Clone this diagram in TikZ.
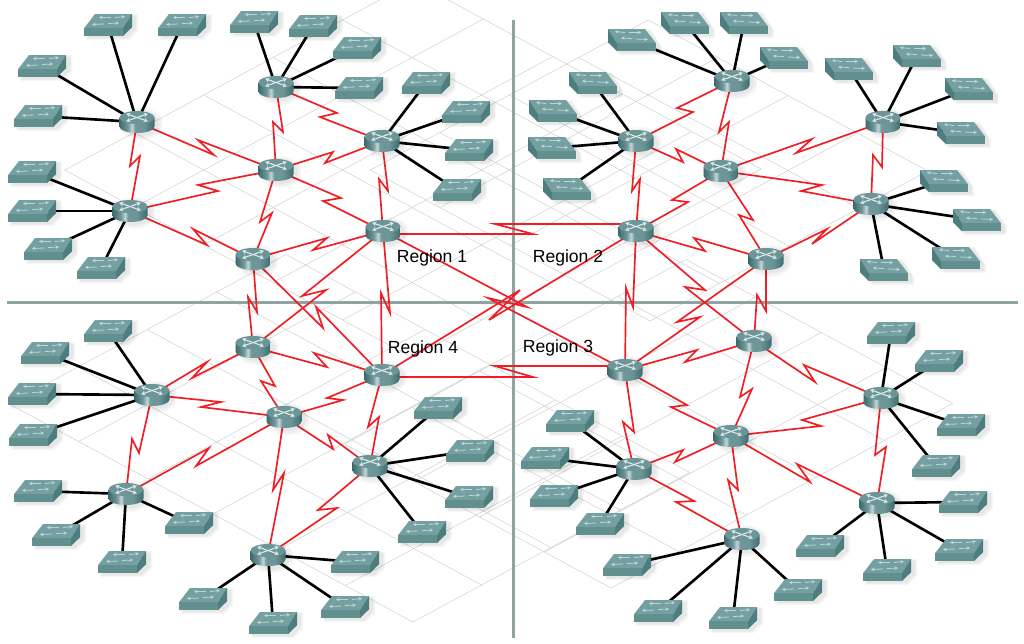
\documentclass[tikz,border=0pt]{standalone}
\usepackage{fontspec}
\setmainfont{Liberation Sans}
\usetikzlibrary{calc,arrows.meta}
\pgfdeclarelayer{background}
\pgfsetlayers{background,main}
\definecolor{rA}{HTML}{3D6B6D}
\definecolor{rB}{HTML}{6F9799}
\definecolor{rC}{HTML}{CAD8D8}
\definecolor{rD}{HTML}{3F6C6E}
\definecolor{rtop}{HTML}{6B9597}
\definecolor{swtop}{HTML}{75A0A2}
\definecolor{sfront}{HTML}{62908F}
\definecolor{sside}{HTML}{4E7D7F}
\definecolor{crossc}{HTML}{8FA5A3}
\definecolor{linkred}{HTML}{F01E24}
\pgfdeclarehorizontalshading{rbody}{100bp}{color(0bp)=(rA);color(25bp)=(rA);color(37bp)=(rB);color(43bp)=(rC);color(47bp)=(rB);color(60bp)=(rtop);color(75bp)=(rD);color(100bp)=(rD)}
\newcommand\routerdraw{%
  \foreach \g in {0,1,2}{\fill[black,opacity=.03] (4,2) ellipse ({18+2*\g} and {12+2*\g});}
  \path[shading=rbody] (-17.5,-4.5) -- (-17.5,4.5) arc (180:0:17.5 and 6.5) -- (17.5,-4.5) -- cycle;
  \fill[rtop] (0,-4.5) ellipse (17.5 and 6.5);
  \draw[white!80!rtop,line width=.6pt,{Stealth[length=2.4pt,width=2.4pt]}-{Stealth[length=2.4pt,width=2.4pt]}] (-11,-8.3) -- (11,-.7);
  \draw[white!80!rtop,line width=.6pt,{Stealth[length=2.4pt,width=2.4pt]}-{Stealth[length=2.4pt,width=2.4pt]}] (-11,-.7) -- (11,-8.3);
}
\newcommand\switchdraw[1]{%
  \foreach \g in {0,1,2}{\fill[black,opacity=.03] ({#1*(-24-\g)+4},{5.3+\g}) -- ({#1*(-13-\g)+4},{-9-\g}) -- ({#1*(24+\g)+4},{-9-\g}) -- ({#1*(24+\g)+4},{4.3+\g}) -- ({#1*(15+\g)+4},{13+\g}) -- ({#1*(-24-\g)+4},{13+\g}) -- cycle;}
  \fill[swtop] ({#1*(-24)},3.3) -- ({#1*(-13)},-11) -- ({#1*24},-11) -- ({#1*15},3.3) -- cycle;
  \fill[sfront] ({#1*(-24)},3.3) -- ({#1*15},3.3) -- ({#1*15},11) -- ({#1*(-24)},11) -- cycle;
  \fill[sside] ({#1*15},3.3) -- ({#1*24},-11) -- ({#1*24},2.3) -- ({#1*15},11) -- cycle;
  \draw[white!55!swtop,line width=.45pt,-{Stealth[length=2pt,width=2pt]}] ({#1*7},-7.5) -- ({#1*17},-8.5);
  \draw[white!55!swtop,line width=.45pt,-{Stealth[length=2pt,width=2pt]}] ({#1*3},-7.5) -- ({#1*(-9)},-7.5);
  \draw[white!55!swtop,line width=.45pt,-{Stealth[length=2pt,width=2pt]}] ({#1*0},-1.5) -- ({#1*11},-2);
  \draw[white!55!swtop,line width=.45pt,-{Stealth[length=2pt,width=2pt]}] ({#1*(-4)},-1) -- ({#1*(-16)},-.5);
}
\tikzset{
  x=.02cm,y=-.02cm,
  rtr/.style={inner sep=0,outer sep=0,minimum width=1cm,minimum height=.7cm,
    path picture={\begin{scope}[shift={(path picture bounding box.center)}]\routerdraw\end{scope}}},
  swr/.style={inner sep=0,outer sep=0,minimum width=1.3cm,minimum height=.75cm,
    path picture={\begin{scope}[shift={(path picture bounding box.center)}]\switchdraw{1}\end{scope}}},
  swl/.style={inner sep=0,outer sep=0,minimum width=1.3cm,minimum height=.75cm,
    path picture={\begin{scope}[shift={(path picture bounding box.center)}]\switchdraw{-1}\end{scope}}},
  serial/.style={draw=linkred,line width=.95pt,line join=miter,miter limit=8},
  lan/.style={draw=black,line width=1.5pt},
  crossline/.style={draw=crossc,line width=1.7pt},
  gridline/.style={draw=black!18,line width=.3pt},
  region/.style={font=\fontsize{10}{12}\selectfont,text=black,inner sep=0},
}
\newcommand\ser[4]{\draw[serial] (#1.center) -- (#3) -- (#4) -- (#2.center);}
\newcommand\lanlink[2]{\draw[lan] (#1.center) -- (#2.center);}
\newcommand\lattice[6]{%
  \foreach \u in {#1}{\draw[gridline] ({(\u-(#6))/1.08},{(\u+(#6))/2}) -- ({(\u-(#5))/1.08},{(\u+(#5))/2});}
  \foreach \d in {#4}{\draw[gridline] ({(#2-\d)/1.08},{(#2+\d)/2}) -- ({(#3-\d)/1.08},{(#3+\d)/2});}
}
\begin{document}
\begin{tikzpicture}
\useasboundingbox (0,0) rectangle (1024,643);
\clip (0,0) rectangle (1024,643);
% routers
\node[rtr] (A1) at (137,122) {}; \node[rtr] (A2) at (130,211) {}; \node[rtr] (A3) at (276,87) {};
\node[rtr] (A4) at (276,170) {}; \node[rtr] (A5) at (382,141) {}; \node[rtr] (A6) at (253,259) {};
\node[rtr] (A7) at (383,231) {};
\node[rtr] (B1) at (732,81) {}; \node[rtr] (B2) at (636,141) {}; \node[rtr] (B3) at (721,171) {};
\node[rtr] (B4) at (883,122) {}; \node[rtr] (B5) at (871,204) {}; \node[rtr] (B6) at (636,231) {};
\node[rtr] (B7) at (766,259) {};
\node[rtr] (C1) at (754,341) {}; \node[rtr] (C2) at (625,370) {}; \node[rtr] (C3) at (731,436) {};
\node[rtr] (C4) at (881,398) {}; \node[rtr] (C5) at (877,503) {}; \node[rtr] (C6) at (634,469) {};
\node[rtr] (C7) at (742,539) {};
\node[rtr] (D1) at (253,347) {}; \node[rtr] (D2) at (382,375) {}; \node[rtr] (D3) at (284,417) {};
\node[rtr] (D4) at (152,395) {}; \node[rtr] (D5) at (126,494) {}; \node[rtr] (D6) at (370,466) {};
\node[rtr] (D7) at (268,555) {};
% switches
\node[swr] (a11) at (108,25) {}; \node[swr] (a12) at (182,25) {}; \node[swr] (a13) at (42,66) {}; \node[swr] (a14) at (38,116) {};
\node[swr] (a21) at (32,172) {}; \node[swr] (a22) at (32,211) {}; \node[swr] (a23) at (48,249) {}; \node[swr] (a24) at (101,268) {};
\node[swr] (a31) at (254,22) {}; \node[swr] (a32) at (313,26) {}; \node[swr] (a33) at (357,48) {}; \node[swr] (a34) at (359,88) {};
\node[swr] (a51) at (426,83) {}; \node[swr] (a52) at (466,112) {}; \node[swr] (a53) at (469,150) {}; \node[swr] (a54) at (457,190) {};
\node[swl] (b11) at (632,40) {}; \node[swl] (b12) at (685,23) {}; \node[swl] (b13) at (744,23) {}; \node[swl] (b14) at (784,58) {};
\node[swl] (b21) at (593,83) {}; \node[swl] (b22) at (553,111) {}; \node[swl] (b23) at (552,148) {}; \node[swl] (b24) at (567,189) {};
\node[swl] (b41) at (849,69) {}; \node[swl] (b42) at (917,56) {}; \node[swl] (b43) at (969,89) {}; \node[swl] (b44) at (961,133) {};
\node[swl] (b51) at (944,181) {}; \node[swl] (b52) at (977,220) {}; \node[swl] (b53) at (956,258) {}; \node[swl] (b54) at (884,270) {};
\node[swr] (c41) at (891,333) {}; \node[swr] (c42) at (939,361) {}; \node[swr] (c43) at (961,425) {}; \node[swr] (c44) at (936,466) {};
\node[swr] (c51) at (963,502) {}; \node[swr] (c52) at (959,550) {}; \node[swr] (c53) at (887,570) {}; \node[swr] (c54) at (820,546) {};
\node[swr] (c61) at (570,421) {}; \node[swr] (c62) at (545,458) {}; \node[swr] (c63) at (554,496) {}; \node[swr] (c64) at (600,524) {};
\node[swr] (c71) at (627,565) {}; \node[swr] (c72) at (658,611) {}; \node[swr] (c73) at (733,618) {}; \node[swr] (c74) at (798,590) {};
\node[swr] (d41) at (108,331) {}; \node[swr] (d42) at (45,353) {}; \node[swr] (d43) at (32,394) {}; \node[swr] (d44) at (33,435) {};
\node[swr] (d51) at (38,491) {}; \node[swr] (d52) at (56,535) {}; \node[swr] (d53) at (122,562) {}; \node[swr] (d54) at (189,523) {};
\node[swr] (d61) at (438,408) {}; \node[swr] (d62) at (470,451) {}; \node[swr] (d63) at (469,497) {}; \node[swr] (d64) at (422,532) {};
\node[swr] (d71) at (355,562) {}; \node[swr] (d72) at (345,607) {}; \node[swr] (d73) at (273,623) {}; \node[swr] (d74) at (203,599) {};
% labels
\node[region] (L1) at (432,258) {Region 1};
\node[region] (L2) at (568,258) {Region 2};
\node[region] (L3) at (558,348) {Region 3};
\node[region] (L4) at (423,349) {Region 4};
\begin{pgfonlayer}{background}
\fill[white] (0,0) rectangle (1024,643);
% perspective grids
\lattice{205,280,355,430,505,580}{205}{580}{-242,-165,-90,-15,60,135}{-242}{135}
\lattice{370,445,521,596,672}{370}{672}{-330,-255,-180,-105,-30}{-330}{-30}
\lattice{630,705,776,846,918}{630}{918}{-111,-37,37,112,185,258}{-111}{258}
\lattice{409,484,559,629,700,772,845}{409}{845}{100,175,250,325,399}{100}{399}
% dividing cross
\coordinate (vt) at (513,20); \coordinate (vb) at (513,638);
\coordinate (hl) at (7,302); \coordinate (hr) at (1018,302);
\draw[crossline] (vt) -- (vb);
\draw[crossline] (hl) -- (hr);
% LAN links
\foreach \r/\s in {A1/a11,A1/a12,A1/a13,A1/a14,A2/a21,A2/a22,A2/a23,A2/a24,A3/a31,A3/a32,A3/a33,A3/a34,A5/a51,A5/a52,A5/a53,A5/a54,
  B1/b11,B1/b12,B1/b13,B1/b14,B2/b21,B2/b22,B2/b23,B2/b24,B4/b41,B4/b42,B4/b43,B4/b44,B5/b51,B5/b52,B5/b53,B5/b54,
  C4/c41,C4/c42,C4/c43,C4/c44,C5/c51,C5/c52,C5/c53,C5/c54,C6/c61,C6/c62,C6/c63,C6/c64,C7/c71,C7/c72,C7/c73,C7/c74,
  D4/d41,D4/d42,D4/d43,D4/d44,D5/d51,D5/d52,D5/d53,D5/d54,D6/d61,D6/d62,D6/d63,D6/d64,D7/d71,D7/d72,D7/d73,D7/d74}{\lanlink{\r}{\s}}
% serial links, region 1
\ser{A1}{A2}{130,166}{140,156}
\ser{A1}{A4}{214,155}{198,140}
\ser{A3}{A4}{283,132}{273,122}
\ser{A3}{A5}{337,113}{320,117}
\ser{A4}{A5}{333,152}{325,163}
\ser{A2}{A4}{218,191}{198,185}
\ser{A2}{A6}{207,245}{193,229}
\ser{A4}{A6}{260,222}{272,213}
\ser{A4}{A7}{341,198}{323,201}
\ser{A5}{A7}{388,191}{379,179}
\ser{A6}{A7}{327,238}{313,250}
\ser{A7}{D1}{302,296}{326,290}
\ser{A6}{D2}{323,328}{316,307}
\ser{A6}{D1}{257,312}{248,297}
\ser{A7}{D2}{390,313}{381,293}
% centre
\ser{A7}{C2}{527,307}{488,298}
\ser{D2}{B6}{520,290}{489,320}
\draw[serial] ($(A7.center)+(0,3)$) -- (533,234) -- (495,224) -- ($(B6.center)+(0,-7)$);
\draw[serial] ($(D2.center)+(0,2)$) -- (533,377) -- (495,366) -- ($(C2.center)+(0,-4)$);
% region 2
\ser{B1}{B2}{677,108}{693,112}
\ser{B1}{B3}{719,132}{729,122}
\ser{B2}{B3}{683,162}{676,149}
\ser{B2}{B6}{632,191}{640,179}
\ser{B3}{B4}{812,139}{796,153}
\ser{B3}{B5}{822,185}{801,191}
\ser{B3}{B6}{672,200}{688,202}
\ser{B3}{B7}{753,220}{739,215}
\ser{B4}{B5}{882,167}{873,155}
\ser{B6}{B7}{705,251}{694,238}
\ser{B5}{B7}{812,244}{827,229}
\ser{B6}{C2}{633,307}{626,288}
\ser{B6}{C1}{705,290}{685,287}
\ser{C2}{B7}{700,317}{677,322}
\ser{C1}{B7}{757,295}{766,311}
% region 3
\ser{C1}{C2}{685,362}{697,350}
\ser{C1}{C3}{740,397}{752,389}
\ser{C1}{C4}{815,382}{804,365}
\ser{C2}{C3}{687,405}{671,407}
\ser{C2}{C6}{634,432}{623,422}
\ser{C3}{C4}{821,426}{802,420}
\ser{C3}{C5}{810,482}{797,464}
\ser{C3}{C6}{675,462}{683,450}
\ser{C3}{C7}{738,490}{728,480}
\ser{C4}{C5}{875,455}{886,447}
\ser{C6}{C7}{694,501}{676,502}
% region 4
\ser{D1}{D4}{192,378}{207,362}
\ser{D1}{D2}{327,367}{314,353}
\ser{D1}{D3}{275,386}{261,381}
\ser{D2}{D3}{327,398}{343,400}
\ser{D2}{D6}{368,427}{379,417}
\ser{D3}{D4}{201,407}{221,402}
\ser{D3}{D5}{196,466}{209,448}
\ser{D3}{D6}{333,449}{328,435}
\ser{D3}{D7}{273,490}{284,473}
\ser{D4}{D5}{139,453}{132,439}
\ser{D6}{D7}{318,510}{337,508}
\end{pgfonlayer}
\end{tikzpicture}
\end{document}
